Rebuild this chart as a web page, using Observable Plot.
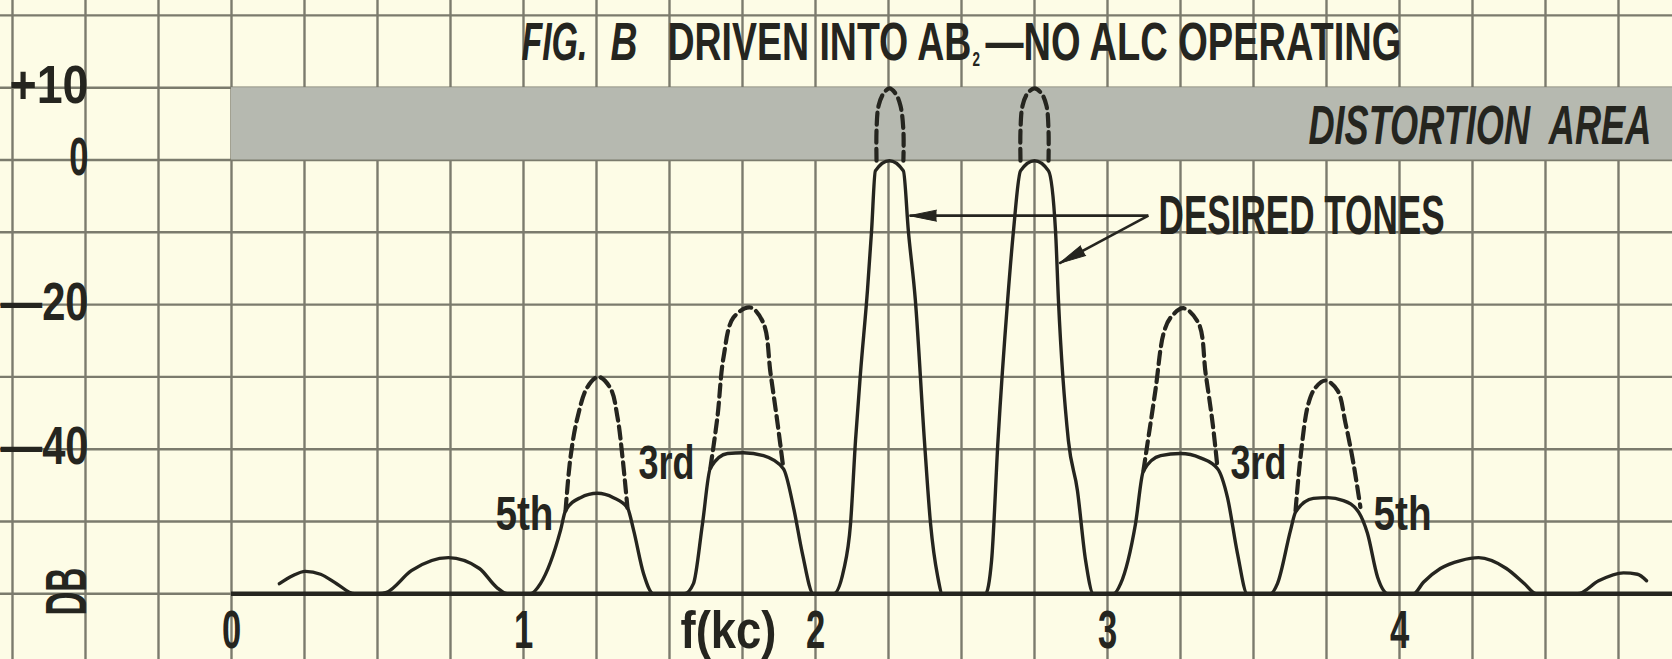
<!DOCTYPE html>
<html>
<head>
<meta charset="utf-8">
<script src="https://cdn.jsdelivr.net/npm/d3@7"></script>
<script src="https://cdn.jsdelivr.net/npm/@observablehq/plot@0.6"></script>
<style>
  html, body { margin: 0; padding: 0; background: #fdfce6; overflow: hidden; }
  svg { display: block; }
</style>
</head>
<body>
<script>
// ---------------- DATA ----------------
// Solid (measured) spectrum: frequency in kc, level in dB
const solidKc = [
  0.164, 0.209, 0.253, 0.305, 0.360, 0.421, 0.503,
  0.531, 0.616, 0.743, 0.849, 0.908, 0.945, 1.024,
  1.058, 1.127, 1.144, 1.195, 1.253, 1.308, 1.356, 1.377, 1.411, 1.445, 1.551,
  1.582, 1.613, 1.640, 1.699, 1.753, 1.822, 1.890, 1.925, 1.955, 1.993, 2.062,
  2.096, 2.120, 2.137, 2.154, 2.178, 2.192, 2.205, 2.253, 2.301, 2.318, 2.342, 2.373, 2.394, 2.418, 2.435, 2.582,
  2.603, 2.625, 2.658, 2.678, 2.702, 2.750, 2.798, 2.822, 2.832, 2.866, 2.897, 2.925, 2.952, 3.021,
  3.045, 3.096, 3.123, 3.182, 3.250, 3.318, 3.377, 3.411, 3.445, 3.479, 3.558,
  3.582, 3.627, 3.644, 3.705, 3.753, 3.808, 3.860, 3.890, 3.925, 3.962, 4.048,
  4.082, 4.140, 4.209, 4.271, 4.366, 4.428, 4.469, 4.610,
  4.682, 4.767, 4.815, 4.846
];
const solidDb = [
  -58.6, -57.5, -56.9, -57.3, -58.6, -60, -60,
  -59.8, -56.8, -55.0, -56.5, -59.1, -60, -60,
  -58.6, -51.2, -48.5, -46.7, -46.1, -46.7, -48.1, -51.2, -57.2, -60, -60,
  -58.6, -50.3, -42.6, -40.6, -40.5, -40.9, -42.7, -48.1, -54.4, -60, -60,
  -56.8, -50.3, -38.8, -29.5, -18.0, -9.8, -1.5, -0.1, -1.5, -9.8, -19.4, -38.8, -50.3, -57.5, -60, -60,
  -55.4, -38.8, -19.4, -9.8, -1.5, -0.1, -1.5, -9.8, -19.4, -38.8, -45.7, -55.4, -60, -60,
  -58.6, -50.3, -43.0, -40.9, -40.6, -41.2, -42.7, -46.7, -54.4, -60, -60,
  -58.6, -51.2, -48.7, -46.8, -46.7, -47.1, -48.7, -51.6, -57.7, -60, -60,
  -58.4, -56.5, -55.4, -55.0, -56.5, -58.6, -60, -60,
  -58.2, -57.1, -57.3, -58.2
];

// Dashed (no ALC) peaks: one list per peak
const dashedNames = ["5th low", "3rd low", "tone 1", "tone 2", "3rd high", "5th high"];
const dashedKc = [
  [1.144, 1.161, 1.185, 1.219, 1.257, 1.298, 1.322, 1.339, 1.356],
  [1.640, 1.664, 1.685, 1.719, 1.777, 1.822, 1.846, 1.870, 1.890],
  [2.209, 2.209, 2.216, 2.233, 2.253, 2.274, 2.291, 2.301, 2.301],
  [2.702, 2.702, 2.709, 2.726, 2.750, 2.774, 2.791, 2.798, 2.798],
  [3.123, 3.130, 3.164, 3.192, 3.216, 3.260, 3.312, 3.336, 3.360, 3.377],
  [3.644, 3.661, 3.688, 3.712, 3.747, 3.788, 3.815, 3.842, 3.866]
];
const dashedDb = [
  [-48.5, -41.1, -35.6, -31.4, -30.0, -31.6, -35.6, -41.1, -48.1],
  [-42.6, -35.6, -27.3, -21.8, -20.4, -22.6, -29.5, -36.4, -42.7],
  [-0.1, 4.1, 7.5, 9.2, 9.9, 9.2, 7.5, 4.1, -0.1],
  [-0.1, 4.1, 7.5, 9.2, 9.9, 9.2, 7.5, 4.1, -0.1],
  [-43.0, -41.1, -31.9, -24.0, -21.8, -20.5, -22.6, -29.5, -36.4, -42.7],
  [-48.5, -41.1, -33.7, -31.5, -30.5, -31.9, -36.4, -41.9, -48.0]
];

const distortionBandDb = [0, 10];   // shaded distortion area (dB)
const floorDb = -60;                 // spectrum floor line

// Tick labels
const xTickValues = [0, 1, 2, 3, 4];
const xTickLabels = ["0", "1", "2", "3", "4"];
const xAxisName = "f(kc)";
const yTickValues = [10, 0, -20, -40];
const yTickLabels = ["+10", "0", "\u201420", "\u201440"];
const yAxisName = "DB";

// Annotation texts
const titleParts = ["FIG.", "B", "DRIVEN INTO AB", "2", "\u2014NO ALC OPERATING"];
const bandLabel = "DISTORTION  AREA";
const toneLabel = "DESIRED TONES";
const harmonicLabels = ["5th", "3rd", "3rd", "5th"];

// ---------------- LAYOUT ----------------
const W = 1672, H = 659;
const x0px = 231, pxPerKc = 292;     // 0 kc at 231px
const y0px = 159.5, pxPerDb = 7.23;  // 0 dB at 159.5px
const xDomain = [-x0px / pxPerKc, (W - x0px) / pxPerKc];
const yDomain = [(y0px - H) / pxPerDb, y0px / pxPerDb];
const px = (kc) => x0px + pxPerKc * kc;
const py = (db) => y0px - pxPerDb * db;

const ink = "#25251f";
const gridColor = "#7b7b6d";
const bandColor = "#b6b9b0";
const bg = "#fdfce6";
const font = "Liberation Sans";

const titleLayout = [
  {x: 0.993, y: 13.9, size: 54, italic: true},
  {x: 1.298, y: 13.9, size: 54, italic: true},
  {x: 1.493, y: 13.9, size: 54, italic: false},
  {x: 2.538, y: 13.0, size: 21, italic: false},
  {x: 2.582, y: 13.9, size: 54, italic: false}
];
const harmonicLayout = [
  {x: 0.904, y: -51.2}, {x: 1.394, y: -44.1}, {x: 3.421, y: -44.1}, {x: 3.911, y: -51.2}
];
const arrowFrom = {x: 3.14, y: -7.7};
const arrowTo = [{x: 2.322, y: -7.7}, {x: 2.835, y: -14.3}];

// target rendered widths (px) for condensed lettering
const targetWidth = new Map([
  ["FIG.", 66], ["B", 27], ["DRIVEN INTO AB", 304],
  ["\u2014NO ALC OPERATING", 416], [bandLabel, 343], [toneLabel, 286],
  ["3rd", 56], ["5th", 58], ["+10", 79], ["\u201420", 88], ["\u201440", 88],
  [xAxisName, 96], [yAxisName, 48]
]);
const defaultCondense = 0.64;

// ---------------- BUILD ----------------
const solid = solidKc.map((x, i) => ({x, y: solidDb[i]}));
const dashed = dashedKc.flatMap((xs, g) => xs.map((x, i) => ({x, y: dashedDb[g][i], g: dashedNames[g]})));
const arrows = arrowTo.map(t => ({
  x1: arrowFrom.x, y1: arrowFrom.y, x2: t.x, y2: t.y,
  angle: Math.atan2(px(t.x) - px(arrowFrom.x), -(py(t.y) - py(arrowFrom.y))) * 180 / Math.PI
}));
const gridXTicks = d3.range(Math.ceil(xDomain[0] * 4), Math.floor(xDomain[1] * 4) + 1).map(k => k / 4);
const gridYTicks = d3.range(Math.ceil(yDomain[0] / 10), Math.floor(yDomain[1] / 10) + 1).map(k => k * 10);

const titleMarks = titleParts.map((t, i) => Plot.text([t], {
  x: titleLayout[i].x, y: titleLayout[i].y, text: d => d,
  textAnchor: "start", lineAnchor: "bottom",
  fontSize: titleLayout[i].size, fontWeight: "bold",
  fontStyle: titleLayout[i].italic ? "italic" : "normal", fill: ink
}));

const chart = Plot.plot({
  width: W, height: H,
  marginTop: 0, marginRight: 0, marginBottom: 0, marginLeft: 0,
  x: {domain: xDomain},
  y: {domain: yDomain},
  style: {background: bg, fontFamily: font, color: ink},
  marks: [
    Plot.gridX(gridXTicks, {stroke: gridColor, strokeOpacity: 1, strokeWidth: 2.4}),
    Plot.gridY(gridYTicks, {stroke: gridColor, strokeOpacity: 1, strokeWidth: 2.4}),
    Plot.rect([distortionBandDb], {x1: 0, x2: xDomain[1], y1: d => d[0], y2: d => d[1], fill: bandColor}),
    Plot.ruleY([floorDb], {x1: 0, x2: xDomain[1], stroke: ink, strokeWidth: 4.4}),
    Plot.line(solid, {x: "x", y: "y", curve: "monotone-x", stroke: ink, strokeWidth: 3.4}),
    Plot.line(dashed, {x: "x", y: "y", z: "g", curve: "catmull-rom", stroke: ink, strokeWidth: 4.2, strokeDasharray: "12,6"}),
    Plot.link(arrows, {x1: "x1", y1: "y1", x2: "x2", y2: "y2", stroke: ink, strokeWidth: 2.6}),
    Plot.vector(arrows, {x: "x2", y: "y2", rotate: "angle", length: 27, r: 5.5, shape: "spike", anchor: "end", fill: ink, stroke: ink, strokeWidth: 1}),
    ...titleMarks,
    Plot.text([bandLabel], {x: 3.688, y: 2.28, text: d => d, textAnchor: "start", lineAnchor: "bottom", fontSize: 55, fontWeight: "bold", fontStyle: "italic", fill: ink}),
    Plot.text([toneLabel], {x: 3.175, y: -10.17, text: d => d, textAnchor: "start", lineAnchor: "bottom", fontSize: 55, fontWeight: "bold", fill: ink}),
    Plot.text(harmonicLabels, {x: (d, i) => harmonicLayout[i].x, y: (d, i) => harmonicLayout[i].y, text: d => d, textAnchor: "start", lineAnchor: "bottom", fontSize: 48, fontWeight: "bold", fill: ink}),
    Plot.axisX(xTickValues, {anchor: "bottom", tickSize: 0, tickPadding: 0, dy: -12, lineAnchor: "bottom",
      tickFormat: d => xTickLabels[xTickValues.indexOf(d)], fontSize: 54, fontWeight: "bold", fill: ink, label: null}),
    Plot.text([xAxisName], {x: 1.702, y: (y0px - 647) / pxPerDb, text: d => d, textAnchor: "middle", lineAnchor: "bottom", fontSize: 52, fontWeight: "bold", fill: ink}),
    Plot.axisY(yTickValues, {anchor: "left", tickSize: 0, tickPadding: 0, dx: 88, dy: -2, textAnchor: "end",
      tickFormat: d => yTickLabels[yTickValues.indexOf(d)], fontSize: 54, fontWeight: "bold", fill: ink, label: null}),
    Plot.text([yAxisName], {x: (67 - x0px) / pxPerKc, y: -59.7, text: d => d, rotate: -90, textAnchor: "middle", lineAnchor: "middle", fontSize: 58, fontWeight: "bold", fill: ink})
  ]
});

document.body.append(chart);

// condense lettering to match the narrow gothic type of the original
for (const t of chart.querySelectorAll("text")) {
  const s = t.textContent;
  const L = t.getComputedTextLength();
  if (!L) continue;
  const sx = targetWidth.has(s) ? targetWidth.get(s) / L : defaultCondense;
  t.setAttribute("transform", (t.getAttribute("transform") || "") + ` scale(${sx.toFixed(4)},1)`);
}
</script>
</body>
</html>
